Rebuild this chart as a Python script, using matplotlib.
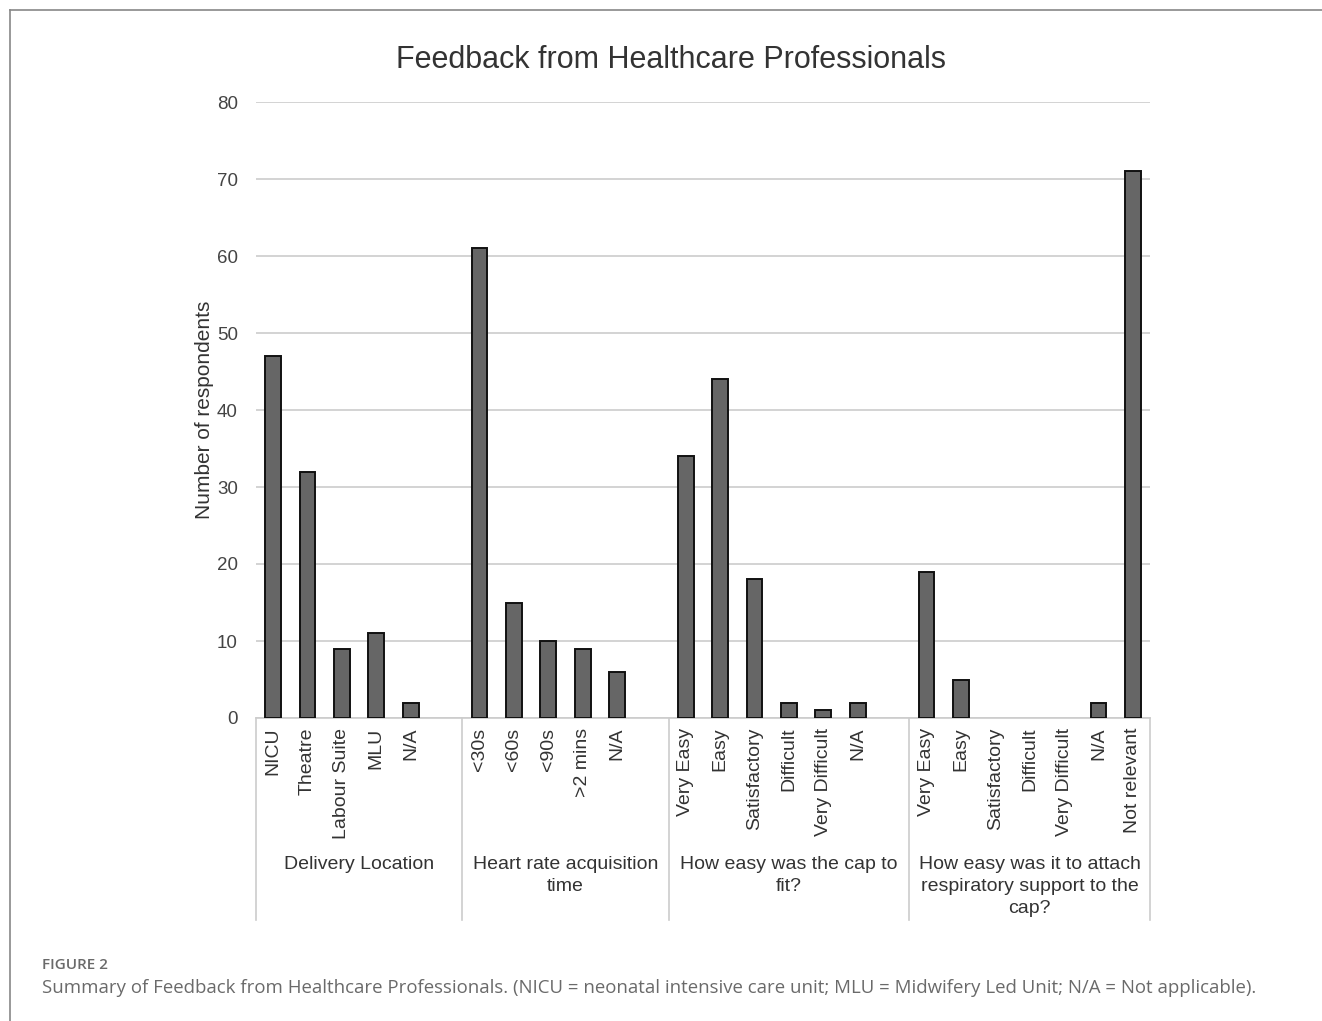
import matplotlib.pyplot as plt
from matplotlib.lines import Line2D
import matplotlib.transforms as mtransforms

plt.rcParams['font.family'] = ['Liberation Sans', 'DejaVu Sans']

# data
groups = ['Delivery Location', 'Heart rate acquisition\ntime',
          'How easy was the cap to\nfit?',
          'How easy was it to attach\nrespiratory support to the\ncap?']
cats_delivery = ['NICU', 'Theatre', 'Labour Suite', 'MLU', 'N/A']
vals_delivery = [47, 32, 9, 11, 2]
cats_hr = ['<30s', '<60s', '<90s', '>2 mins', 'N/A']
vals_hr = [61, 15, 10, 9, 6]
cats_fit = ['Very Easy', 'Easy', 'Satisfactory', 'Difficult', 'Very Difficult', 'N/A']
vals_fit = [34, 44, 18, 2, 1, 2]
cats_resp = ['Very Easy', 'Easy', 'Satisfactory', 'Difficult', 'Very Difficult', 'N/A', 'Not relevant']
vals_resp = [19, 5, 0, 0, 0, 2, 71]

all_cats = [cats_delivery, cats_hr, cats_fit, cats_resp]
all_vals = [vals_delivery, vals_hr, vals_fit, vals_resp]

fig = plt.figure(figsize=(13.22, 10.21), dpi=100)
ax = fig.add_axes([256/1322, 1 - 718/1021, (1150-256)/1322, (718-102)/1021])

# slot positions: one empty slot after each group except the last
xs, labels, heights, bounds, centers = [], [], [], [-0.5], []
pos = 0
for gi, (cats, vals) in enumerate(zip(all_cats, all_vals)):
    start = pos
    for c, v in zip(cats, vals):
        xs.append(pos)
        labels.append(c)
        heights.append(v)
        pos += 1
    if gi < len(all_cats) - 1:
        pos += 1
    bounds.append(pos - 0.5)
    centers.append((start - 0.5 + pos - 0.5) / 2)

# zero bars get no outline (nothing visible in the original)
lws = [1.4 if h > 0 else 0 for h in heights]
ax.bar(xs, heights, width=0.46, color='#666666', edgecolor='#111111',
       linewidth=lws, zorder=3)

ax.set_xlim(-0.5, pos - 0.5)
ax.set_ylim(0, 80)
ax.set_yticks(range(0, 81, 10))
ax.grid(axis='y', color='#cccccc', linewidth=1.2, zorder=0)
for s in ['top', 'right', 'left']:
    ax.spines[s].set_visible(False)
ax.spines['bottom'].set_color('#cccccc')
ax.spines['bottom'].set_linewidth(1.2)
ax.tick_params(axis='y', length=0, pad=13, labelsize=13.5, labelcolor='#444444')
ax.set_xticks(xs)
ax.set_xticklabels(labels, rotation=90, fontsize=14, color='#333333')
ax.tick_params(axis='x', length=0, pad=7)

ax.set_ylabel('Number of respondents', fontsize=15, color='#333333', labelpad=2)
fig.text(671/1322, 1 - 60/1021, 'Feedback from Healthcare Professionals',
         fontsize=22, color='#333333', ha='center', va='center')

trans = mtransforms.blended_transform_factory(ax.transData, ax.transAxes)
sep_bottom = -(920 - 718) / 616
for b in bounds:
    ax.add_line(Line2D([b, b], [0, sep_bottom], transform=trans, color='#cccccc',
                       linewidth=1.2, clip_on=False))
for c, g in zip(centers, groups):
    ax.text(c, -(856 - 718) / 616, g, transform=trans, ha='center', va='top',
            fontsize=14, color='#333333', linespacing=1.38)

# frame around figure
fig.add_artist(Line2D([10/1322, 10/1322], [0, 1 - 10/1021], transform=fig.transFigure,
                      color='#888888', linewidth=1.2))
fig.add_artist(Line2D([10/1322, 1], [1 - 10/1021, 1 - 10/1021], transform=fig.transFigure,
                      color='#888888', linewidth=1.2))

# caption
fig.text(42/1322, 1 - 965/1021, 'FIGURE 2', fontsize=11, color='#6a6a6a', weight='semibold',
         family=['Open Sans', 'DejaVu Sans'], va='center')
fig.text(42/1322, 1 - 988/1021,
         'Summary of Feedback from Healthcare Professionals. (NICU = neonatal intensive care unit; '
         'MLU = Midwifery Led Unit; N/A = Not applicable).',
         fontsize=13.4, color='#6a6a6a', family=['Open Sans', 'DejaVu Sans'], va='center')

fig.savefig('out.png', dpi=100)
